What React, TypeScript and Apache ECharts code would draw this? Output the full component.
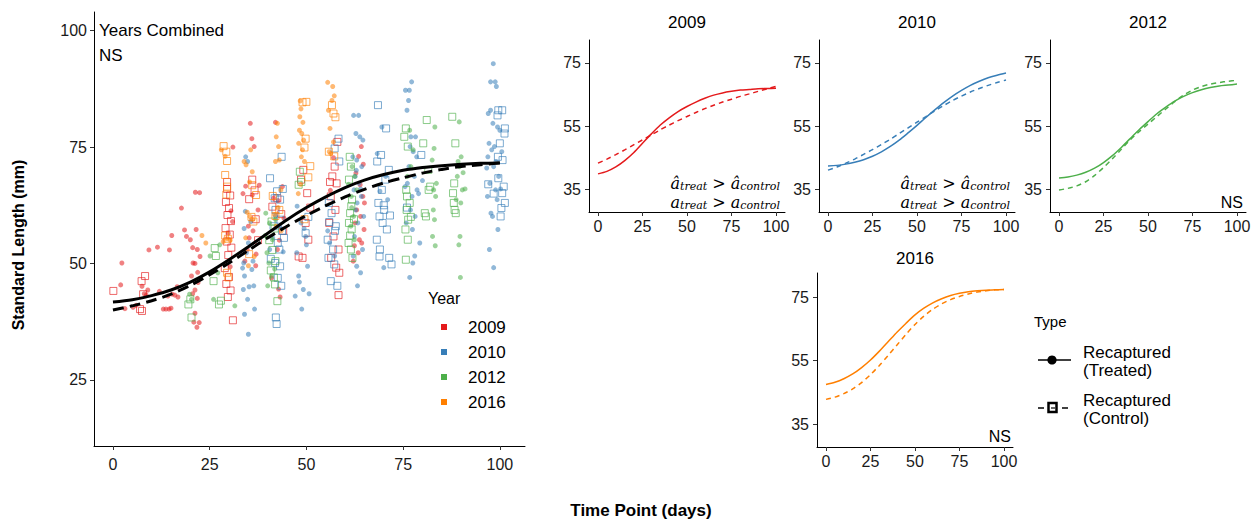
import React, { useEffect, useRef } from "react";
import * as echarts from "echarts";

const FONT = "'Liberation Sans', Arial, sans-serif";
const YEARS = ["2009", "2010", "2012", "2016"];
const YEAR_COLORS = ["#E41A1C", "#377EB8", "#4DAF4A", "#FF7F00"];
const X_TICKS = [0, 25, 50, 75, 100];
const MAIN_Y_TICKS = [25, 50, 75, 100];
const PANEL_Y_TICKS = [35, 55, 75];
const CURVE_DAYS = [0, 5, 10, 15, 20, 25, 30, 35, 40, 45, 50, 55, 60, 65, 70, 75, 80, 85, 90, 95, 100];

// fitted curves
const allTreated = [41.7, 42.2, 43.1, 44.3, 46.0, 48.2, 50.8, 53.6, 56.5, 59.4, 62.0, 64.3, 66.3, 67.9, 69.1, 70.0, 70.6, 71.0, 71.3, 71.5, 71.6];
const allControl = [40.0, 40.9, 42.0, 43.4, 45.3, 47.6, 50.1, 52.8, 55.5, 58.0, 60.3, 62.4, 64.3, 65.9, 67.3, 68.4, 69.4, 70.2, 70.8, 71.2, 71.6];
const t2009 = [39.8, 40.6, 42.0, 44.0, 46.5, 49.5, 52.5, 55.3, 57.6, 59.6, 61.2, 62.6, 63.8, 64.8, 65.5, 66.0, 66.4, 66.6, 66.8, 66.9, 67.0];
const c2009 = [43.2, 44.5, 45.9, 47.4, 49.0, 50.6, 52.2, 53.8, 55.3, 56.7, 58.0, 59.3, 60.5, 61.6, 62.6, 63.5, 64.4, 65.2, 66.0, 66.8, 67.6];
const t2010 = [42.3, 42.5, 42.9, 43.5, 44.3, 45.4, 46.8, 48.5, 50.5, 52.8, 55.2, 57.7, 60.1, 62.4, 64.5, 66.3, 67.9, 69.2, 70.3, 71.1, 71.8];
const c2010 = [41.0, 42.0, 43.2, 44.5, 46.0, 47.5, 49.1, 50.8, 52.6, 54.4, 56.2, 58.0, 59.8, 61.5, 63.1, 64.5, 65.8, 66.9, 67.9, 68.8, 69.6];
const t2012 = [38.5, 38.8, 39.4, 40.3, 41.6, 43.4, 45.6, 48.2, 51.0, 53.8, 56.4, 58.9, 61.0, 62.9, 64.4, 65.6, 66.5, 67.2, 67.7, 68.0, 68.3];
const c2012 = [34.7, 35.2, 36.0, 37.3, 39.3, 41.8, 44.6, 47.6, 50.6, 53.2, 55.6, 58.0, 60.4, 62.7, 64.8, 66.4, 67.5, 68.3, 68.8, 69.2, 69.5];
const t2016 = [47.5, 48.2, 49.3, 50.8, 52.8, 55.2, 58.0, 61.0, 64.0, 66.8, 69.4, 71.5, 73.2, 74.5, 75.5, 76.2, 76.7, 77.0, 77.2, 77.3, 77.4];
const c2016 = [42.8, 43.5, 44.6, 46.1, 48.1, 50.6, 53.5, 56.7, 60.0, 63.3, 66.4, 69.0, 71.2, 72.9, 74.2, 75.2, 76.0, 76.6, 77.0, 77.3, 77.4];

// observations [day, length]
const pts2009T = [[2.3,50.1],[2.0,45.4],[3.1,40.3],[5.2,40.6],[8.1,43.5],[9.0,44.3],[8.6,43.2],[7.5,45.1],[9.3,52.9],[6.0,41.0],
[11.5,53.5],[12.0,44.0],[13.0,40.2],[13.7,40.2],[14.5,40.2],[14.2,43.0],[15.3,43.4],[16.0,43.2],[16.8,42.8],[14.6,52.9],[15.2,56.0],[16.6,45.0],[15.0,40.4],
[17.7,61.9],[18.5,57.2],[19.0,55.8],[20.6,53.4],[21.5,57.3],[21.3,65.3],[22.4,65.2],[20.7,50.1],[21.2,50.0],[21.9,48.1],[20.3,47.3],[22.0,45.9],[21.2,44.3],[20.6,43.5],[21.8,42.5],[21.2,39.3],[20.9,37.4],[21.7,36.3],[22.3,37.3],[20.0,55.1],[21.8,53.0],[22.5,51.5],
[31.0,75.0],[30.5,61.3],[30.9,59.0],[29.8,56.5],[30.3,49.3],
[35.5,80.1],[35.9,76.8],[36.5,75.1],[34.3,66.6],[36.0,64.7],[37.5,61.5],[35.0,58.0],[36.2,57.0],[35.2,55.5],[34.7,53.0],[37.0,52.0],[34.1,50.5],[36.9,49.5],[33.6,65.0],[37.8,66.8],
[42.0,80.3],[43.8,66.5],[41.5,64.0],[42.7,63.5],[44.2,59.7],[43.0,55.0],[42.5,53.0],[41.0,46.9],[42.8,44.5],[43.2,42.8],
[57.0,72.7],[56.2,65.7],
[64.2,75.1],[63.5,73.0],[64.7,71.3],[62.8,69.4],[63.9,66.9],[64.6,64.4],[63.0,61.5],[64.0,60.1],[62.6,58.7],[64.9,57.3],[63.7,55.1],[64.3,54.4],[62.4,53.8],[63.4,52.3],[65.0,63.0],[62.1,50.5]];
const pts2009C = [[0.1,44.1],[7.4,46.2],[8.3,47.3],[7.8,43.4],[7.0,40.2],[7.5,39.8],
[29.5,66.0],[30.3,64.6],[29.2,63.2],[30.0,61.9],[29.6,60.4],[30.5,59.1],[29.1,57.6],[30.2,56.2],[29.4,54.7],[30.6,53.4],[29.8,51.8],[30.0,47.1],[29.3,45.6],[30.4,44.2],[29.7,42.8],[31.0,37.8],[29.5,67.5],[28.9,49.0],
[36.0,68.0],[36.6,65.7],[35.2,63.8],[36.9,59.5],[37.5,55.0],
[42.5,64.0],[43.5,60.6],[41.2,62.2],[44.0,57.0],
[49.2,70.1],[48.6,68.0],[50.2,65.1],[49.8,58.7],[50.5,55.1],[49.0,51.2],[48.0,51.5],[51.0,62.0],
[58.0,76.1],[57.3,70.8],[56.7,68.7],[57.8,67.2],[56.3,64.4],[57.5,61.5],[55.9,58.7],[57.0,55.8],[58.3,53.0],[56.4,51.2],[57.7,49.1],[58.5,48.0],[58.3,43.2],[56.1,67.5]];
const pts2010T = [[34.3,72.9],[34.8,71.9],[34.2,61.2],[35.6,59.0],[33.9,57.5],[35.0,54.4],[34.5,52.3],[33.8,50.1],[35.9,48.7],[34.0,47.3],[36.4,45.2],[33.7,44.4],[35.2,45.0],[34.8,42.3],[36.6,40.2],[34.0,39.1],[35.0,34.8],[36.2,50.5],[33.5,49.0],
[42.0,60.2],[43.1,58.0],[41.3,55.5],[44.0,52.5],[40.5,53.0],
[47.6,62.3],[48.6,58.7],[49.8,55.8],[47.5,52.3],[50.3,49.4],[48.0,47.3],[49.2,44.4],[47.1,43.0],[48.8,40.2],[50.7,43.5],[50.0,54.0],[49.4,57.5],[48.2,46.0],
[56.0,54.4],[57.3,51.6],[55.5,57.0],
[62.2,81.8],[63.5,81.8],[62.8,77.9],[63.8,77.2],[64.6,76.5],[62.0,72.9],[63.0,72.2],[64.3,70.8],[62.6,68.7],[63.6,67.2],[62.3,65.8],[64.2,64.4],[63.1,63.0],[62.7,61.5],[64.8,60.1],[63.3,58.7],[62.4,55.8],[64.5,53.0],[62.1,51.6],[63.0,49.4],[64.0,48.0],[63.2,45.2],[62.9,70.0],[64.0,66.0],
[69.5,79.3],[68.3,73.6],[70.5,68.7],[69.0,65.5],[71.0,63.7],[70.0,49.1],
[77.2,89.0],[75.6,87.2],[76.6,87.2],[76.4,85.0],[76.0,82.9],[77.0,77.2],[78.2,77.2],[76.8,75.1],[77.6,74.0],[78.5,72.9],[76.5,70.8],[77.9,68.7],[76.1,67.2],[78.6,65.8],[77.3,64.4],[76.9,61.5],[78.1,60.1],[75.8,58.7],[77.4,57.3],[79.3,54.4],[78.0,51.6],[77.5,50.1],[76.7,47.0],[79.0,65.0],[75.5,66.5],[80.0,67.8],
[98.3,92.9],[97.6,89.0],[98.8,89.0],[99.1,88.0],[97.6,82.9],[97.0,82.2],[98.2,80.1],[99.4,79.3],[100.0,78.6],[97.2,75.8],[98.6,75.1],[97.9,74.4],[96.9,72.9],[98.4,70.8],[99.7,68.7],[97.4,67.2],[98.9,65.8],[96.8,64.4],[99.3,63.7],[97.7,60.8],[98.1,60.1],[99.5,57.3],[97.3,53.0],[98.4,49.1],[100.2,66.0],[96.6,70.5],[99.0,71.9],[100.5,74.0]];
const pts2010C = [[43.6,72.9],[40.6,68.3],[42.4,65.5],[43.9,66.0],[41.8,64.0],[43.2,63.7],[42.0,61.5],[43.3,59.4],[41.5,58.0],[43.7,57.0],[42.6,54.4],[43.0,53.0],[41.9,50.1],[43.2,49.4],[42.6,46.9],[43.5,45.2],[42.1,38.4],[42.3,37.0],[44.2,55.5],[40.8,51.0],
[50.5,60.0],[49.8,56.5],
[58.3,76.8],[57.3,74.7],[58.5,71.9],[55.8,63.0],[56.5,60.8],[57.6,58.0],[55.5,55.1],[56.9,53.0],[55.7,51.2],[57.2,49.8],[56.3,46.2],[58.0,45.2],[57.4,57.0],[55.9,58.9],
[68.5,84.0],[70.6,79.0],[69.3,73.3],[68.3,71.9],[71.3,70.1],[70.4,68.0],[69.5,65.8],[68.6,63.0],[70.1,61.5],[68.9,60.1],[71.6,60.3],[69.7,58.7],[70.8,57.3],[68.2,55.1],[69.0,53.0],[71.4,51.2],[72.0,49.8],[68.9,51.5],[70.0,62.5],
[79.7,73.3],[76.0,62.0],
[99.6,82.9],[100.6,82.9],[99.4,81.8],[101.3,79.0],[101.2,77.9],[100.0,75.8],[99.5,72.9],[100.7,72.2],[99.6,68.3],[101.0,66.5],[100.6,65.1],[101.3,63.0],[100.4,61.9],[100.2,60.1],[98.4,65.0],[97.0,67.0]];
const pts2012T = [[19.8,43.4],[20.3,42.3],[25.1,51.6],[27.1,48.0],[26.0,42.3],[27.6,54.0],[31.5,40.9],
[39.5,60.8],[40.5,58.7],[41.2,55.1],[39.8,52.3],[40.3,50.1],[41.0,47.3],[40.0,45.2],[42.0,59.5],[39.4,56.0],[41.8,48.8],
[61.8,70.8],[62.5,68.7],[63.0,65.8],[61.6,64.4],[62.2,60.1],[61.5,58.0],[62.4,55.1],[61.7,62.0],[60.9,67.0],
[76.7,78.6],[77.6,74.4],[77.0,70.8],[76.1,68.7],
[83.2,79.3],[83.0,74.7],[82.5,72.2],[83.6,67.2],[82.9,65.8],[83.4,64.4],[82.8,61.5],[83.1,59.4],[82.6,55.8],[83.3,53.8],
[89.5,80.4],[90.0,72.9],[89.2,71.9],[89.6,70.8],[89.0,68.7],[90.3,65.8],[88.7,63.7],[89.9,63.0],[89.7,55.8],[89.4,54.0],[89.8,47.0],[91.0,66.0],[90.5,69.5]];
const pts2012C = [[20.0,42.3],[19.5,41.2],[20.3,38.4],
[26.3,53.3],[26.6,51.6],[26.0,46.2],[27.4,41.2],[27.9,42.0],
[41.0,59.0],[41.8,57.5],[40.4,55.0],[41.2,52.9],[42.0,50.5],[40.8,48.5],[41.6,47.0],[41.9,45.5],[42.5,41.9],
[48.3,69.7],[48.0,66.9],[48.7,67.5],
[61.2,72.9],[61.5,70.8],[61.0,68.0],[61.8,63.7],[61.6,62.3],[61.3,60.8],[61.0,58.7],[61.7,57.3],[61.3,56.0],[60.9,54.4],[61.5,53.0],[61.9,51.2],[62.3,59.5],
[75.7,79.0],[75.3,77.2],[76.2,75.1],[75.8,65.8],[76.0,64.4],[76.7,63.0],[75.9,61.5],[76.3,59.4],[75.6,57.3],[76.2,55.1],[75.7,50.8],[77.0,60.0],
[81.1,80.8],[80.2,75.8],[81.5,70.1],[81.6,65.8],[80.6,60.8],[80.9,60.1],[82.0,66.5],
[87.7,81.5],[88.5,75.8],[88.2,67.2],[87.9,65.1],[88.1,63.0],[88.3,61.5],[88.6,60.8]];
const pts2016T = [[23.0,56.0],[24.0,54.4],
[28.0,74.4],[29.0,73.0],[29.5,55.3],[30.3,55.0],[28.5,54.7],
[33.9,71.9],[34.4,71.2],[35.6,74.4],[36.0,69.7],[35.3,67.5],[34.7,61.0],[35.4,60.1],[36.1,59.4],[34.3,55.5],[36.5,51.5],[35.0,49.5],
[42.5,80.1],[42.2,77.2],[42.8,75.1],[43.0,72.2],[42.0,71.9],[43.4,65.8],[42.7,62.0],[41.8,60.5],[42.2,58.0],[43.5,57.0],
[48.4,84.9],[48.6,83.2],[48.3,81.5],[49.1,80.3],[48.2,78.6],[48.8,77.9],[49.3,76.5],[48.0,75.8],[49.0,74.4],[48.7,72.9],[49.5,71.9],[48.5,67.0],[47.9,65.0],
[55.5,88.9],[56.8,88.0],[57.2,86.0],[56.6,85.0],[55.7,82.9],[56.1,79.0],[57.0,76.1],[55.9,74.0],[56.3,73.6]];
const pts2016C = [[28.6,75.2],[29.3,74.0],[29.5,72.0],[29.0,69.0],[29.5,66.5],[29.3,64.8],[29.0,56.0],[29.7,55.3],[29.5,48.0],[29.8,47.0],
[36.0,66.8],[37.0,64.7],[35.8,60.0],[36.3,59.0],[35.2,52.0],
[42.0,60.2],[43.0,61.5],[41.3,64.5],
[50.0,84.7],[49.0,84.6],[49.8,76.8],[49.5,74.9],[51.0,70.9],[50.5,68.5],[49.5,59.5],
[56.6,84.0],[57.0,82.2],[57.5,81.4],[55.8,74.0],[57.2,73.0]];

const TREATED_PTS = [pts2009T, pts2010T, pts2012T, pts2016T];
const CONTROL_PTS = [pts2009C, pts2010C, pts2012C, pts2016C];
const PANEL_T = [t2009, t2010, t2012, t2016];
const PANEL_C = [c2009, c2010, c2012, c2016];

const pair = (vals: number[]) => CURVE_DAYS.map((d, i) => [d, vals[i]]);

function xAxis(gridIndex: number, min: number, max: number, margin: number) {
  return {
    type: "value", gridIndex, min, max,
    axisLine: { show: true, onZero: false, lineStyle: { color: "#000", width: 1 } },
    axisTick: { show: true, length: 4, customValues: X_TICKS, lineStyle: { color: "#333" } },
    axisLabel: { customValues: X_TICKS, color: "#1a1a1a", fontSize: 16, margin, fontFamily: FONT },
    splitLine: { show: false },
  };
}
function yAxis(gridIndex: number, min: number, max: number, ticks: number[], margin: number) {
  return {
    type: "value", gridIndex, min, max,
    axisLine: { show: true, onZero: false, lineStyle: { color: "#000", width: 1 } },
    axisTick: { show: true, length: 4, customValues: ticks, lineStyle: { color: "#333" } },
    axisLabel: { customValues: ticks, color: "#1a1a1a", fontSize: 16, margin, fontFamily: FONT },
    splitLine: { show: false },
  };
}

export default function App() {
  const ref = useRef<HTMLDivElement>(null);
  useEffect(() => {
    if (!ref.current) return;
    const chart = echarts.init(ref.current, null, { renderer: "svg" });
    const series: any[] = [];
    YEARS.forEach((y, i) => {
      series.push({
        type: "scatter", xAxisIndex: 0, yAxisIndex: 0, data: TREATED_PTS[i],
        symbol: "circle", symbolSize: 5,
        itemStyle: { color: YEAR_COLORS[i], opacity: 0.55 },
      });
      series.push({
        type: "scatter", xAxisIndex: 0, yAxisIndex: 0, data: CONTROL_PTS[i],
        symbol: "rect", symbolSize: 7,
        itemStyle: { color: "rgba(0,0,0,0)", borderColor: YEAR_COLORS[i], borderWidth: 1, opacity: 0.65 },
      });
    });
    series.push({
      type: "line", xAxisIndex: 0, yAxisIndex: 0, data: pair(allControl), symbol: "none", smooth: 0.3,
      lineStyle: { color: "#000", width: 3, type: [11, 6] }, z: 5,
    });
    series.push({
      type: "line", xAxisIndex: 0, yAxisIndex: 0, data: pair(allTreated), symbol: "none", smooth: 0.3,
      lineStyle: { color: "#000", width: 3 }, z: 5,
    });
    for (let i = 0; i < 4; i++) {
      series.push({
        type: "line", xAxisIndex: i + 1, yAxisIndex: i + 1, data: pair(PANEL_T[i]), symbol: "none", smooth: 0.3,
        lineStyle: { color: YEAR_COLORS[i], width: 1.5 },
      });
      series.push({
        type: "line", xAxisIndex: i + 1, yAxisIndex: i + 1, data: pair(PANEL_C[i]), symbol: "none", smooth: 0.3,
        lineStyle: { color: YEAR_COLORS[i], width: 1.5, type: [5, 4] },
      });
    }

    const txt = (text: string, x: number, y: number, opts: any = {}) => ({
      type: "text", x, y, silent: true,
      style: { text, fill: "#000", fontSize: 17, fontFamily: FONT, align: "left", verticalAlign: "middle", ...opts },
    });
    const rich = {
      a: { fontFamily: "'DejaVu Serif', serif", fontStyle: "italic", fontSize: 16, lineHeight: 18, verticalAlign: "middle" },
      s: { fontFamily: "'DejaVu Serif', serif", fontStyle: "italic", fontSize: 11, lineHeight: 18, verticalAlign: "bottom", padding: [6, 0, 0, 0] },
      g: { fontFamily: "'DejaVu Serif', serif", fontSize: 16, lineHeight: 18, verticalAlign: "middle" },
    };
    const annot = (x: number, y: number, hat: boolean) => {
      const a = hat ? "a\u0302" : "a";
      return {
        type: "text", x, y, silent: true,
        style: { text: `{a|${a}}{s|treat}{g| > }{a|${a}}{s|control}`, rich, align: "right", verticalAlign: "middle", fill: "#000" },
      };
    };

    const graphic: any[] = [
      txt("Years Combined", 99, 30),
      txt("NS", 99, 55),
      txt("2009", 687, 22, { align: "center" }),
      txt("2010", 917, 22, { align: "center" }),
      txt("2012", 1148, 22, { align: "center" }),
      txt("2016", 915, 258, { align: "center" }),
      txt("NS", 1243, 202, { align: "right", fontSize: 16 }),
      txt("NS", 1011, 436, { align: "right", fontSize: 16 }),
      annot(780, 183, true),
      annot(780, 202, false),
      annot(1010, 183, true),
      annot(1010, 202, false),
      { type: "text", x: 18, y: 245, rotation: Math.PI / 2, silent: true,
        style: { text: "Standard Length (mm)", fill: "#000", fontSize: 16, fontWeight: "bold", fontFamily: FONT, align: "center", verticalAlign: "middle" } },
      txt("Time Point (days)", 641, 510, { align: "center", fontWeight: "bold", fontSize: 17 }),
      txt("Year", 428, 298, { fontSize: 16 }),
      txt("Type", 1034, 321, { fontSize: 15 }),
      { type: "line", shape: { x1: 1038, y1: 360, x2: 1071, y2: 360 }, style: { stroke: "#000", lineWidth: 1.5 } },
      { type: "circle", shape: { cx: 1052, cy: 360, r: 4.6 }, style: { fill: "#000" } },
      { type: "line", shape: { x1: 1038, y1: 408, x2: 1044, y2: 408 }, style: { stroke: "#000", lineWidth: 1.5 } },
      { type: "line", shape: { x1: 1062, y1: 408, x2: 1068, y2: 408 }, style: { stroke: "#000", lineWidth: 1.5 } },
      { type: "rect", shape: { x: 1048.5, y: 403, width: 8, height: 9 }, style: { fill: "none", stroke: "#000", lineWidth: 2.5 } },
      { type: "line", shape: { x1: 1051, y1: 408, x2: 1055, y2: 408 }, style: { stroke: "#000", lineWidth: 1.2 } },
      txt("Recaptured", 1083, 352, { fontSize: 17 }),
      txt("(Treated)", 1083, 370, { fontSize: 17 }),
      txt("Recaptured", 1083, 400, { fontSize: 17 }),
      txt("(Control)", 1083, 418, { fontSize: 17 }),
    ];
    YEARS.forEach((y, i) => {
      const cy = 327 + i * 25;
      graphic.push({ type: "rect", shape: { x: 441, y: cy - 3, width: 6, height: 6 }, style: { fill: YEAR_COLORS[i] } });
      graphic.push(txt(y, 468, cy, { fontSize: 17 }));
    });

    chart.setOption({
      animation: false,
      backgroundColor: "#fff",
      grid: [
        { left: 94, top: 12, width: 431, height: 434, outerBoundsMode: "none" },
        { left: 589, top: 40, width: 196, height: 172, outerBoundsMode: "none" },
        { left: 819, top: 40, width: 196, height: 172, outerBoundsMode: "none" },
        { left: 1050, top: 40, width: 196, height: 172, outerBoundsMode: "none" },
        { left: 817, top: 273, width: 196, height: 174, outerBoundsMode: "none" },
      ],
      xAxis: [
        xAxis(0, -4.9, 106.5, 10),
        xAxis(1, -5.06, 105.06, 6),
        xAxis(2, -5.06, 105.06, 6),
        xAxis(3, -5.06, 105.06, 6),
        xAxis(4, -5.06, 105.06, 6),
      ],
      yAxis: [
        yAxis(0, 10.8, 104, MAIN_Y_TICKS, 7),
        yAxis(1, 27.7, 82.3, PANEL_Y_TICKS, 8),
        yAxis(2, 27.7, 82.3, PANEL_Y_TICKS, 8),
        yAxis(3, 27.7, 82.3, PANEL_Y_TICKS, 8),
        yAxis(4, 27.8, 82.6, PANEL_Y_TICKS, 8),
      ],
      series,
      graphic,
    });
    return () => chart.dispose();
  }, []);
  return <div ref={ref} style={{ position: "fixed", left: 0, top: 0, width: 1259, height: 520 }} />;
}
